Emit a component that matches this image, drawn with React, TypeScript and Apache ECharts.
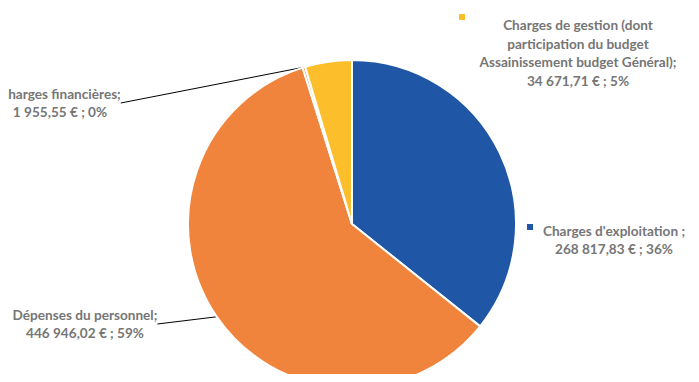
import React, { useEffect, useRef } from "react";
import * as echarts from "echarts";

const categories = [
  "Charges d'exploitation ;",
  "Dépenses du personnel;",
  "Charges financières;",
  "Charges de gestion (dont\nparticipation du budget\nAssainissement budget Général);",
];
const values = [268817.83, 446946.02, 1955.55, 34671.71];
const colors = ["#1F56A6", "#F0843C", "#F0843C", "#FCBF2B"];
const showLine = [false, true, true, false];
const labelPos = [
  { x: 614, y: 240 },
  { x: 85, y: 324 },
  { x: 60, y: 103 },
  { x: 578, y: 53 },
];

function fmt(v: number): string {
  const [i, d] = v.toFixed(2).split(".");
  return i.replace(/\B(?=(\d{3})+(?!\d))/g, " ") + "," + d;
}

export default function App() {
  const ref = useRef<HTMLDivElement>(null);
  useEffect(() => {
    if (!ref.current) return;
    const chart = echarts.init(ref.current, null, { renderer: "svg" });
    const fontFamily = "Lato, 'Open Sans', sans-serif";
    chart.setOption({
      animation: false,
      backgroundColor: "#ffffff",
      graphic: [
        { type: "rect", shape: { x: 459, y: 14, width: 6, height: 6 }, style: { fill: "#FCBF2B" } },
        { type: "rect", shape: { x: 527, y: 224, width: 6, height: 6 }, style: { fill: "#1F56A6" } },
      ],
      series: [
        {
          type: "pie",
          center: [352, 224],
          radius: 164,
          startAngle: 90,
          clockwise: true,
          avoidLabelOverlap: false,
          itemStyle: { borderColor: "#ffffff", borderWidth: 2 },
          label: {
            show: true,
            color: "#767676",
            fontWeight: "bold",
            fontSize: 13.6,
            fontFamily,
            lineHeight: 18.5,
            align: "center",
            formatter: (p: any) => `${p.name}\n${fmt(p.value)} € ; ${Math.round(p.percent)}%`,
          },
          labelLine: {
            lineStyle: { color: "#000000", width: 1 },
            smooth: false,
            length: 0,
            length2: 0,
          },
          labelLayout: (params: any) => {
            const pos = labelPos[params.dataIndex];
            return { x: pos.x, y: pos.y, align: "center", verticalAlign: "middle" };
          },
          data: categories.map((name, i) => ({
            name,
            value: values[i],
            itemStyle: { color: colors[i] },
            labelLine: { show: showLine[i] },
          })),
        },
      ],
    });
    return () => chart.dispose();
  }, []);
  return <div ref={ref} style={{ width: 699, height: 382, margin: -8 }} />;
}
